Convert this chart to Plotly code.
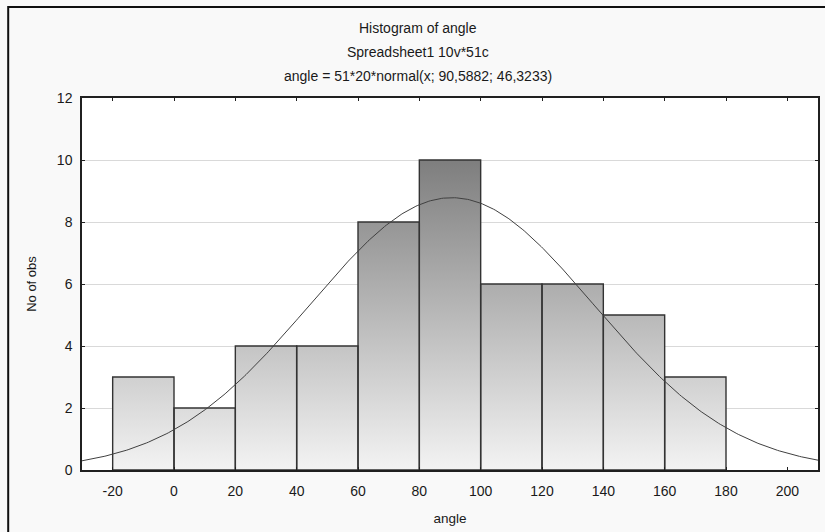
import numpy as np
import plotly.graph_objects as go

# ---- data ----
bin_edges = [-20, 0, 20, 40, 60, 80, 100, 120, 140, 160, 180]
counts = [3, 2, 4, 4, 8, 10, 6, 6, 5, 3]
n_obs = 51
bin_width = 20
fit_mean = 90.5882
fit_sd = 46.3233
x_ticks = [-20, 0, 20, 40, 60, 80, 100, 120, 140, 160, 180, 200]
x_tick_labels = ["-20", "0", "20", "40", "60", "80", "100", "120", "140", "160", "180", "200"]
y_ticks = [0, 2, 4, 6, 8, 10, 12]

title_lines = ["Histogram of angle", "Spreadsheet1 10v*51c",
               "angle = 51*20*normal(x; 90,5882; 46,3233)"]

FONT = "Liberation Sans, Arial, sans-serif"

# bar polygons (one trace, None separated) with absolute vertical gradient
px, py = [], []
for i, c in enumerate(counts):
    x0, x1 = bin_edges[i], bin_edges[i + 1]
    px += [x0, x0, x1, x1, x0, None]
    py += [0, c, c, 0, 0, None]

fig = go.Figure()
fig.add_trace(go.Scatter(
    x=px, y=py, mode="lines", fill="toself",
    line=dict(color="#333333", width=1.4),
    fillgradient=dict(type="vertical", start=0, stop=10,
                      colorscale=[[0, "#f3f3f3"], [1, "#7e7e7e"]]),
    hoverinfo="skip", showlegend=False))

# fitted normal curve
xc = np.linspace(-30, 210, 400)
yc = n_obs * bin_width * np.exp(-0.5 * ((xc - fit_mean) / fit_sd) ** 2) / (fit_sd * np.sqrt(2 * np.pi))
fig.add_trace(go.Scatter(x=xc, y=yc, mode="lines",
                         line=dict(color="#404040", width=1), showlegend=False))

annotations = []
for i, t in enumerate(title_lines):
    annotations.append(dict(text=t, xref="paper", yref="paper",
                            x=(419 - 82) / 738, y=(470 - [28, 52, 76][i]) / 372,
                            xanchor="center", yanchor="middle", showarrow=False,
                            font=dict(family=FONT, size=14, color="#1a1a1a")))

fig.update_layout(
    width=825, height=532,
    margin=dict(l=82, r=5, t=98, b=62),
    paper_bgcolor="#f9f9f9", plot_bgcolor="#ffffff",
    font=dict(family=FONT, size=13, color="#1a1a1a"),
    annotations=annotations,
    shapes=[dict(type="rect", xref="paper", yref="paper",
                 x0=(8 - 82) / 738, x1=1.2, y0=-0.3, y1=(470 - 7) / 372,
                 line=dict(color="#101010", width=2), layer="above")],
    xaxis=dict(range=[-30, 210], tickvals=x_ticks, ticktext=x_tick_labels,
               showgrid=False, zeroline=False,
               showline=True, linecolor="#202020", linewidth=1.5, mirror="ticks",
               ticks="inside", ticklen=3, tickcolor="#202020",
               ticklabelstandoff=7,
               title=dict(text="angle", font=dict(size=13.5), standoff=16),
               tickfont=dict(size=14)),
    yaxis=dict(range=[0, 12], tickvals=y_ticks, showgrid=True, gridcolor="#d9d9d9",
               zeroline=False, showline=True, linecolor="#202020", linewidth=1.5,
               mirror="ticks", ticks="inside", ticklen=3, tickcolor="#202020",
               ticklabelstandoff=5,
               title=dict(text="No of obs", font=dict(size=13), standoff=17),
               tickfont=dict(size=14)),
)

fig.write_html("out.html")
